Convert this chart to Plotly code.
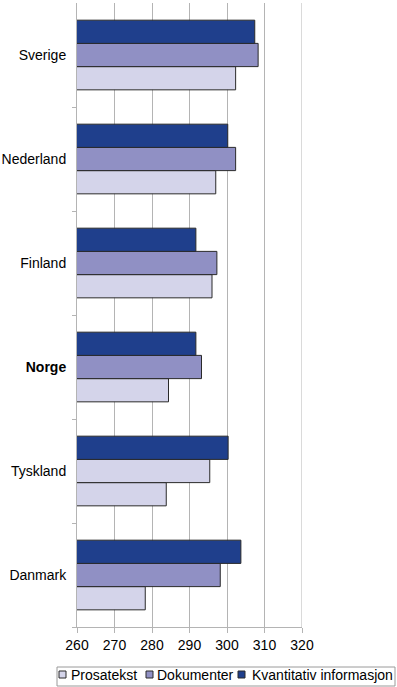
import plotly.graph_objects as go

countries = ["Sverige", "Nederland", "Finland", "Norge", "Tyskland", "Danmark"]
prosatekst = [302.3, 297.0, 296.0, 284.4, 283.8, 278.2]
dokumenter = [308.3, 302.3, 297.3, 293.2, 295.4, 298.2]
kvantitativ = [307.4, 300.2, 291.7, 291.7, 300.3, 303.7]
x_ticks = [260, 270, 280, 290, 300, 310, 320]
series_names = ["Prosatekst", "Dokumenter", "Kvantitativ informasjon"]

c_light = "#D4D4EA"
c_mid = "#9090C4"
c_dark = "#1F3F8C"
series_colors = [c_light, c_mid, c_dark]
dok_colors = [c_light if c == "Tyskland" else c_mid for c in countries]

W, H = 397, 687
L, R, T, B = 77, 95, 3, 60
PW, PH = W - L - R, H - T - B


def px(x):
    return (x - L) / PW


def py(y):
    return (H - B - y) / PH


line = dict(color="#2a2a2a", width=1)
fig = go.Figure()
fig.add_trace(go.Bar(y=countries, x=prosatekst, orientation="h", name=series_names[0],
                     marker=dict(color=c_light, line=line)))
fig.add_trace(go.Bar(y=countries, x=dokumenter, orientation="h", name=series_names[1],
                     marker=dict(color=dok_colors, line=line)))
fig.add_trace(go.Bar(y=countries, x=kvantitativ, orientation="h", name=series_names[2],
                     marker=dict(color=c_dark, line=line)))

ticktext = ["<b>Norge</b>" if c == "Norge" else c for c in countries]

fig.update_layout(
    width=W, height=H,
    margin=dict(l=L, r=R, t=T, b=B, autoexpand=False),
    paper_bgcolor="white", plot_bgcolor="white",
    barmode="group", bargap=0.33, bargroupgap=0,
    font=dict(family="Liberation Sans, Arial, sans-serif", size=14, color="black"),
    showlegend=False,
    xaxis=dict(range=[260, 320], tickvals=x_ticks, showgrid=True, gridcolor="#b4b4b4",
               gridwidth=1, zeroline=False, showline=True, linecolor="#b4b4b4",
               ticks="outside", ticklen=5, tickcolor="#b4b4b4",
               tickfont=dict(size=14)),
    yaxis=dict(categoryorder="array", categoryarray=countries[::-1],
               tickvals=countries, ticktext=ticktext, showline=True, linecolor="#b4b4b4",
               ticks="outside", tickson="boundaries", ticklen=4, tickcolor="#b4b4b4",
               ticklabelstandoff=7, showgrid=False, tickfont=dict(size=14)),
)
fig.add_shape(type="line", xref="x", yref="paper", x0=320, x1=320, y0=0, y1=1,
              line=dict(color="#b4b4b4", width=1))

# legend box drawn manually
fig.add_shape(type="rect", xref="paper", yref="paper",
              x0=px(57), x1=px(395), y0=py(667), y1=py(686),
              line=dict(color="#9a9a9a", width=1), fillcolor="white")
sq_x = [59, 146, 238]
tx_x = [69, 155, 250]
for name, col, sx, tx in zip(series_names, series_colors, sq_x, tx_x):
    fig.add_shape(type="rect", xref="paper", yref="paper",
                  x0=px(sx), x1=px(sx + 7), y0=py(671), y1=py(678),
                  line=dict(color="#2a2a2a", width=1), fillcolor=col)
    fig.add_annotation(text=name, xref="paper", yref="paper", x=px(tx), y=py(675),
                       xanchor="left", yanchor="middle", showarrow=False,
                       font=dict(size=14, color="black"))

fig.write_html("out.html", config={"displayModeBar": False},
               post_script="document.body.style.margin='0px';")
